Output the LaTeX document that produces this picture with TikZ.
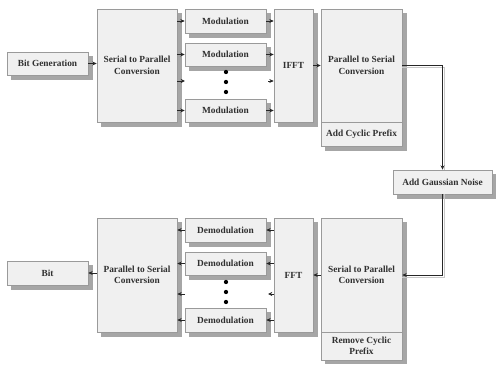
\documentclass[tikz,border=0pt]{standalone}
\usepackage{fontspec}
\setmainfont{Liberation Serif}
\usetikzlibrary{arrows.meta,calc}
\definecolor{boxfill}{HTML}{F0F0F0}
\definecolor{boxline}{HTML}{9A9A9A}
\definecolor{shadowc}{HTML}{A6A6A6}
\definecolor{txt}{HTML}{303030}
\definecolor{lshadow}{HTML}{C8C8C8}
\tikzset{
  blk/.style={draw=boxline, fill=boxfill, line width=0.6pt, inner sep=1pt,
    font=\fontsize{7}{8.6}\selectfont\bfseries, text=txt, align=center},
  shd/.style={fill=shadowc},
  conn/.style={draw=black!85, line width=0.5pt, -{Stealth[length=3.2pt,width=3pt]}},
  dotc/.style={fill=black, circle, inner sep=0pt, minimum size=3.2pt}
}
\begin{document}
\begin{tikzpicture}[x=0.75pt,y=-0.75pt]
\useasboundingbox (0,0) rectangle (496,364);
% box shadows
\fill[shd] (11,56) rectangle (93,80);
\fill[shd] (101,13) rectangle (182,127);
\fill[shd] (189,13) rectangle (271,38);
\fill[shd] (189,47) rectangle (271,71);
\fill[shd] (189,103) rectangle (271,127);
\fill[shd] (278,13) rectangle (318,127);
\fill[shd] (325,13) rectangle (407,151);
\fill[shd] (397,174) rectangle (496,199);
\fill[shd] (325,222) rectangle (407,364);
\fill[shd] (278,222) rectangle (318,337);
\fill[shd] (189,222) rectangle (271,247);
\fill[shd] (189,256) rectangle (271,280);
\fill[shd] (189,312) rectangle (271,337);
\fill[shd] (101,222) rectangle (182,337);
\fill[shd] (11,265) rectangle (93,290);
% transmitter
\node[blk, minimum width=81*0.75pt, minimum height=23*0.75pt] (bitgen) at (47.5,63.5) {Bit Generation};
\node[blk, minimum width=80*0.75pt, minimum height=113*0.75pt] (sp1) at (137,65.5) {Serial to Parallel\\Conversion};
\node[blk, minimum width=81*0.75pt, minimum height=24*0.75pt] (mod1) at (225.5,21) {Modulation};
\node[blk, minimum width=81*0.75pt, minimum height=23*0.75pt] (mod2) at (225.5,54.5) {Modulation};
\node[blk, minimum width=81*0.75pt, minimum height=23*0.75pt] (mod3) at (225.5,110.5) {Modulation};
\node[blk, minimum width=39*0.75pt, minimum height=113*0.75pt] (ifft) at (293.5,65.5) {IFFT};
\node[blk, minimum width=81*0.75pt, minimum height=113*0.75pt] (ps1) at (361.5,65.5) {Parallel to Serial\\Conversion};
\node[blk, minimum width=81*0.75pt, minimum height=24*0.75pt] (acp) at (361.5,134) {Add Cyclic Prefix};
\node[blk, minimum width=99*0.75pt, minimum height=24*0.75pt] (awgn) at (442.5,182) {Add Gaussian Noise};
% receiver
\node[blk, minimum width=81*0.75pt, minimum height=114*0.75pt] (sp2) at (361.5,275) {Serial to Parallel\\Conversion};
\node[blk, minimum width=81*0.75pt, minimum height=28*0.75pt] (rcp) at (361.5,346) {Remove Cyclic\\Prefix};
\node[blk, minimum width=39*0.75pt, minimum height=114*0.75pt] (fft) at (293.5,275) {FFT};
\node[blk, minimum width=81*0.75pt, minimum height=24*0.75pt] (dem1) at (225.5,230) {Demodulation};
\node[blk, minimum width=81*0.75pt, minimum height=23*0.75pt] (dem2) at (225.5,263.5) {Demodulation};
\node[blk, minimum width=81*0.75pt, minimum height=24*0.75pt] (dem3) at (225.5,320) {Demodulation};
\node[blk, minimum width=80*0.75pt, minimum height=114*0.75pt] (ps2) at (137,275) {Parallel to Serial\\Conversion};
\node[blk, minimum width=81*0.75pt, minimum height=24*0.75pt] (bit) at (47.5,273) {Bit};
% dots
\node[dotc] (d1) at (226,72) {};
\node[dotc] (d2) at (226,82) {};
\node[dotc] (d3) at (226,92) {};
\node[dotc] (e1) at (226,282) {};
\node[dotc] (e2) at (226,292) {};
\node[dotc] (e3) at (226,302) {};
% stub coordinates
\coordinate (s1) at (185,81);
\coordinate (s2) at (268,81);
\coordinate (s3) at (268,294);
\coordinate (s4) at (185,294);
% connector shadows
\draw[lshadow, line width=0.7pt] ($(ps1.east |- ifft.east)+(0,2)$) -| ($(awgn.north)+(2,0)$);
\draw[lshadow, line width=0.7pt] ($(awgn.south)+(2,0)$) |- ($(sp2.east)+(0,2)$);
% connectors (transmitter)
\draw[conn] (bitgen.east) -- (bitgen.east -| sp1.west);
\draw[conn] (sp1.east |- mod1.west) -- (mod1.west);
\draw[conn] (sp1.east |- mod2.west) -- (mod2.west);
\draw[conn] (sp1.east |- s1) -- (s1);
\draw[conn] (sp1.east |- mod3.west) -- (mod3.west);
\draw[conn] (mod1.east) -- (mod1.east -| ifft.west);
\draw[conn] (mod2.east) -- (mod2.east -| ifft.west);
\draw[conn] (s2) -- (s2 -| ifft.west);
\draw[conn] (mod3.east) -- (mod3.east -| ifft.west);
\draw[conn] (ifft.east) -- (ifft.east -| ps1.west);
\draw[conn] (ps1.east |- ifft.east) -| (awgn.north);
% receiver
\draw[conn] (awgn.south) |- (sp2.east);
\draw[conn] (sp2.west) -- (sp2.west -| fft.east);
\draw[conn] (fft.west |- dem1.east) -- (dem1.east);
\draw[conn] (fft.west |- dem2.east) -- (dem2.east);
\draw[conn] (fft.west |- s3) -- (s3);
\draw[conn] (fft.west |- dem3.east) -- (dem3.east);
\draw[conn] (dem1.west) -- (dem1.west -| ps2.east);
\draw[conn] (dem2.west) -- (dem2.west -| ps2.east);
\draw[conn] (s4) -- (s4 -| ps2.east);
\draw[conn] (dem3.west) -- (dem3.west -| ps2.east);
\draw[conn] (ps2.west |- bit.east) -- (bit.east);
\end{tikzpicture}
\end{document}
